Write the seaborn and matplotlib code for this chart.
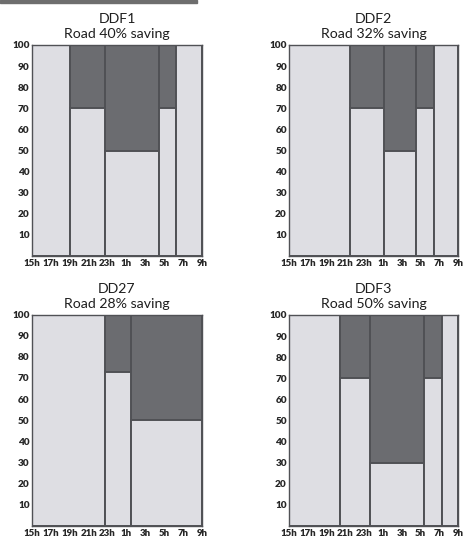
import numpy as np
import pandas as pd
import matplotlib
matplotlib.use("Agg")
import matplotlib.pyplot as plt
import seaborn as sns
from matplotlib.patches import Rectangle

# hours after 15h, boundaries of each tariff block, and share kept on road (%)
hour_labels = ["15h", "17h", "19h", "21h", "23h", "1h", "3h", "5h", "7h", "9h"]
hour_ticks = [0, 2, 4, 6, 8, 10, 12, 14, 16, 18]
y_ticks = [10, 20, 30, 40, 50, 60, 70, 80, 90, 100]

ddf1_edges = [0, 4.0, 7.7, 13.4, 15.25, 18]
ddf1_road = [100, 70, 50, 70, 100]

ddf2_edges = [0, 6.5, 10.05, 13.45, 15.4, 18]
ddf2_road = [100, 70, 50, 70, 100]

dd27_edges = [0, 7.75, 10.5, 18]
dd27_road = [100, 73, 50]

ddf3_edges = [0, 5.4, 8.65, 14.4, 16.25, 18]
ddf3_road = [100, 70, 30, 70, 100]

panels = [
    ("DDF1", "Road 40% saving", ddf1_edges, ddf1_road),
    ("DDF2", "Road 32% saving", ddf2_edges, ddf2_road),
    ("DD27", "Road 28% saving", dd27_edges, dd27_road),
    ("DDF3", "Road 50% saving", ddf3_edges, ddf3_road),
]

sns.set_style("white")
plt.rcParams['font.family'] = ['Lato', 'DejaVu Sans']

light = "#dedee3"
dark = "#6b6c70"
edge = "#505155"

fig = plt.figure(figsize=(4.7, 5.43), dpi=100)
W, H = 470, 543
# axes boxes in pixels: left, top, right, bottom
boxes = [(31.7, 45, 202.3, 256), (289, 45, 458.3, 256),
         (31.7, 314.5, 202.3, 526), (289, 315, 458.3, 526)]

for (name, sub, edges, road), (l, t, r, b) in zip(panels, boxes):
    ax = fig.add_axes([l / W, 1 - b / H, (r - l) / W, (b - t) / H])
    mids = [(a + c) / 2 for a, c in zip(edges[:-1], edges[1:])]
    df = pd.DataFrame({"hour": mids, "road": road, "total": [100] * len(mids)})
    # full column (dark = shifted off road), then road share drawn over it
    sns.histplot(data=df, x="hour", weights="total", bins=list(edges), ax=ax,
                 color=dark, alpha=1, edgecolor=edge, linewidth=1.4)
    sns.histplot(data=df, x="hour", weights="road", bins=list(edges), ax=ax,
                 color=light, alpha=1, edgecolor=edge, linewidth=1.4)
    ax.set_xlim(0, 18)
    ax.set_ylim(0, 100)
    ax.set_xticks(hour_ticks)
    ax.set_xticklabels(hour_labels, fontsize=6.9, fontweight="heavy", color="#262626")
    ax.set_yticks(y_ticks)
    ax.set_yticklabels([str(v) for v in y_ticks], fontsize=7.2, fontweight="heavy", color="#262626")
    ax.tick_params(axis="x", length=0, pad=2)
    ax.tick_params(axis="y", length=0, pad=1.5)
    ax.set_xlabel("")
    ax.set_ylabel("")
    for s in ax.spines.values():
        s.set_color(edge)
        s.set_linewidth(1.0)
    ax.set_title(name + "\n" + sub, fontsize=10.2, linespacing=1.3, pad=5, color="#1e1e1e")

fig.patches.append(Rectangle((0, 1 - 2.5 / H), 197 / W, 2.5 / H,
                             transform=fig.transFigure, color="#6e6e6e"))

fig.savefig("out.png", dpi=100)
